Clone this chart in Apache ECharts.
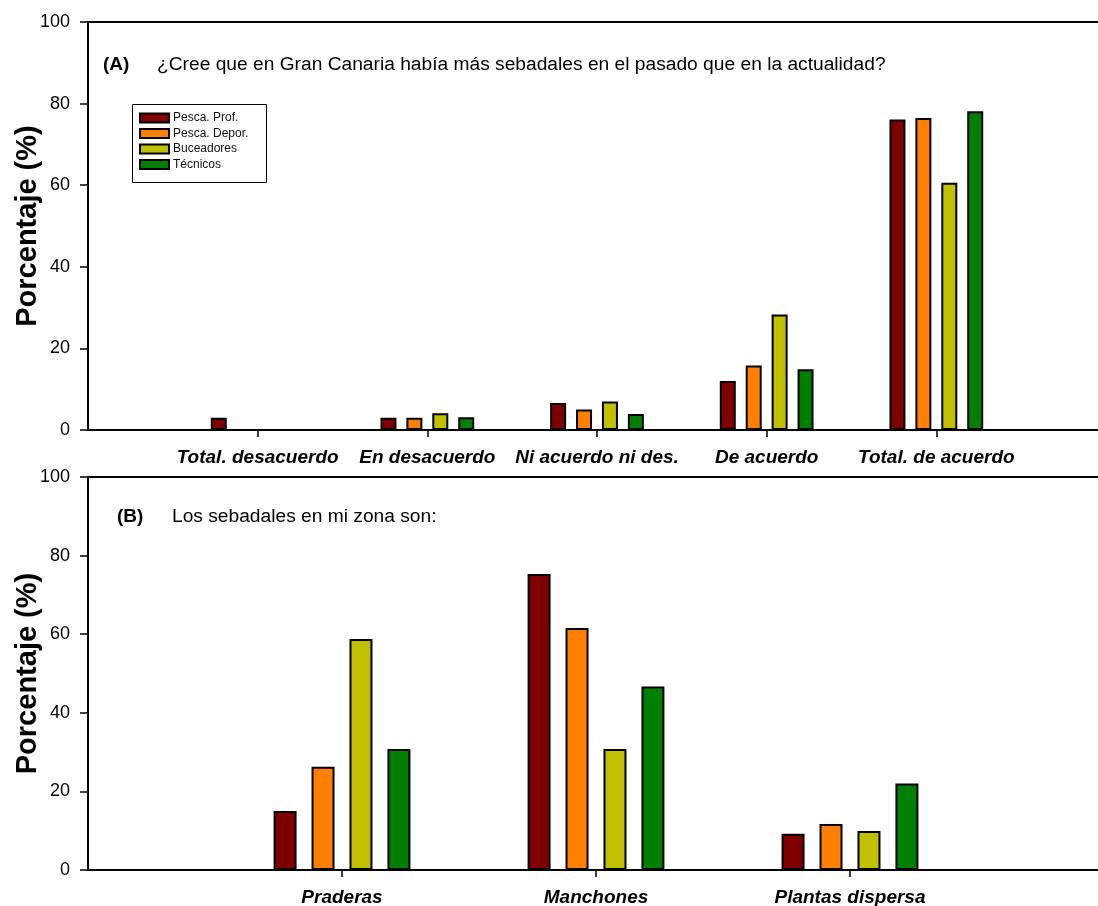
<!DOCTYPE html>
<html>
<head>
<meta charset="utf-8">
<script src="https://cdn.jsdelivr.net/npm/echarts@6/dist/echarts.min.js"></script>
<style>
  html, body { margin: 0; padding: 0; background: #fff; overflow: hidden; }
  #main { width: 1130px; height: 906px; }
</style>
</head>
<body>
<div id="main"></div>
<script>
// categorias (los '' son huecos para que los ticks caigan donde el original)
var catsA = ['', 'Total. desacuerdo', 'En desacuerdo', 'Ni acuerdo ni des.', 'De acuerdo', 'Total. de acuerdo', ''];
var catsB = ['', 'Praderas', 'Manchones', 'Plantas dispersa', ''];

var grupos = ['Pesca. Prof.', 'Pesca. Depor.', 'Buceadores', 'Técnicos'];
var colores = ['#7f0000', '#ff8000', '#c0c000', '#007f00'];

// (A) ¿habia mas sebadales en el pasado?
var profA   = ['-', 3, 3, 6.6, 12, 76.1, '-'];
var deporA  = ['-', '-', 3, 5, 15.8, 76.5, '-'];
var bucA    = ['-', '-', 4.1, 7, 28.3, 60.6, '-'];
var tecA    = ['-', '-', 3.1, 3.9, 14.9, 78.1, '-'];

// (B) los sebadales en mi zona son
var profB   = ['-', 15, 75.3, 9.2, '-'];
var deporB  = ['-', 26.3, 61.6, 11.7, '-'];
var bucB    = ['-', 58.8, 30.8, 9.9, '-'];
var tecB    = ['-', 30.8, 46.7, 22, '-'];

var yTicks = [0, 20, 40, 60, 80, 100];

var fuente = 'Arial, "Liberation Sans", sans-serif';

function ejeX(idx, cats) {
	return {
		type: 'category',
		gridIndex: idx,
		data: cats,
		boundaryGap: false,
		axisLine: { lineStyle: { color: '#000', width: 2 } },
		axisTick: {
			length: 7,
			lineStyle: { color: '#000', width: 1.5 },
			interval: function (i, v) { return v !== ''; }
		},
		axisLabel: {
			interval: 0,
			margin: 18,
			color: '#000',
			fontFamily: fuente,
			fontSize: 19,
			fontWeight: 'bold',
			fontStyle: 'italic'
		},
		splitLine: { show: false }
	};
}

function ejeY(idx) {
	return {
		type: 'value',
		gridIndex: idx,
		min: yTicks[0],
		max: yTicks[yTicks.length - 1],
		interval: 20,
		name: 'Porcentaje (%)',
		nameLocation: 'middle',
		nameRotate: 90,
		nameGap: 46,
		nameMoveOverlap: false,
		nameTextStyle: { color: '#000', fontFamily: fuente, fontSize: 29, fontWeight: 'bold' },
		axisLine: { show: true, lineStyle: { color: '#000', width: 2 } },
		axisTick: { show: true, length: 8, lineStyle: { color: '#000', width: 1.5 } },
		axisLabel: { color: '#000', fontFamily: fuente, fontSize: 18, margin: 18 },
		splitLine: { show: false }
	};
}

function serie(nombre, datos, color, idx, ancho, gap) {
	return {
		name: nombre,
		type: 'bar',
		xAxisIndex: idx,
		yAxisIndex: idx,
		data: datos,
		barWidth: ancho,
		barGap: gap,
		itemStyle: { color: color, borderColor: '#000', borderWidth: 2 },
		emphasis: { disabled: true }
	};
}

var chart = echarts.init(document.getElementById('main'));

var option = {
	backgroundColor: '#fff',
	animation: false,
	grid: [
		{ left: 88, top: 22, width: 1018, height: 408, outerBoundsMode: 'none', show: true, borderColor: '#000', borderWidth: 2, backgroundColor: 'transparent' },
		{ left: 88, top: 477, width: 1016, height: 393, outerBoundsMode: 'none', show: true, borderColor: '#000', borderWidth: 2, backgroundColor: 'transparent' }
	],
	xAxis: [ejeX(0, catsA), ejeX(1, catsB)],
	yAxis: [ejeY(0), ejeY(1)],
	legend: {
		data: grupos,
		orient: 'vertical',
		left: 134,
		top: 106,
		icon: 'rect',
		itemWidth: 29,
		itemHeight: 9,
		itemGap: 1.5,
		textStyle: { color: '#111', fontFamily: fuente, fontSize: 12, lineHeight: 14, padding: [0, 0, 0, -1] },
		selectedMode: false
	},
	graphic: [
		{ type: 'rect', left: 130, top: 102, shape: { width: 134, height: 78 }, style: { fill: 'none', stroke: '#000', lineWidth: 1 }, z: 1 },
		{ type: 'text', left: 103, top: 55, style: { text: '(A)', font: 'bold 19px ' + fuente, fill: '#000' } },
		{ type: 'text', left: 157, top: 55, style: { text: '¿Cree que en Gran Canaria había más sebadales en el pasado que en la actualidad?', font: '19.2px ' + fuente, fill: '#000' } },
		{ type: 'text', left: 117, top: 507, style: { text: '(B)', font: 'bold 19px ' + fuente, fill: '#000' } },
		{ type: 'text', left: 172, top: 507, style: { text: 'Los sebadales en mi zona son:', font: '19.2px ' + fuente, fill: '#000' } }
	],
	series: [
		serie(grupos[0], profA, colores[0], 0, 16, '62%'),
		serie(grupos[1], deporA, colores[1], 0, 16, '62%'),
		serie(grupos[2], bucA, colores[2], 0, 16, '62%'),
		serie(grupos[3], tecA, colores[3], 0, 16, '62%'),
		serie(grupos[0], profB, colores[0], 1, 23, '65%'),
		serie(grupos[1], deporB, colores[1], 1, 23, '65%'),
		serie(grupos[2], bucB, colores[2], 1, 23, '65%'),
		serie(grupos[3], tecB, colores[3], 1, 23, '65%')
	]
};

chart.setOption(option);
</script>
</body>
</html>
